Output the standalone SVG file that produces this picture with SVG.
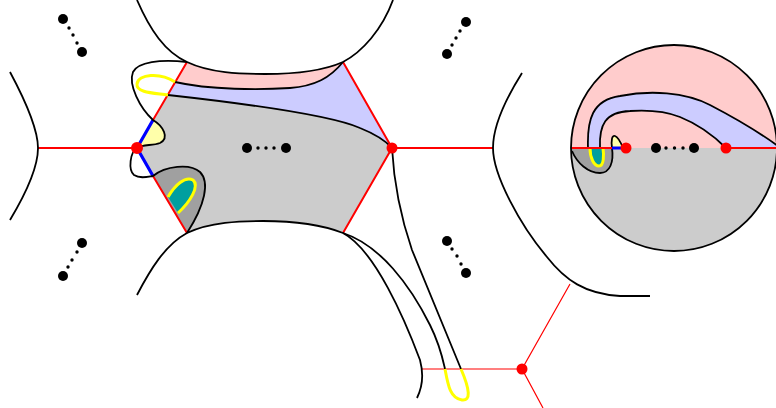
<svg xmlns="http://www.w3.org/2000/svg" width="776" height="408" viewBox="0 0 776 408">
<style>
.k{fill:none;stroke:#000;stroke-width:1.8}
.r{fill:none;stroke:#ff0000;stroke-width:2}
.rt{fill:none;stroke:#ff0000;stroke-width:1.2}
.b{fill:none;stroke:#0000ff;stroke-width:3.2}
.y{fill:none;stroke:#ffff00;stroke-width:3}
.pink{fill:#ffcccc}
.blue{fill:#ccccff}
.grey{fill:#cccccc}
.dgrey{fill:#a0a0a0}
.teal{fill:#009f9f}
.ly{fill:#ffffaa}
.d{fill:#000}
.rd{fill:#ff0000}
</style>
<defs>
<clipPath id="cc"><circle cx="674" cy="148" r="103"/></clipPath>
</defs>
<rect width="776" height="408" fill="#fff"/>

<g id="regions">
<path class="pink" d="M187,62 C210,73 240,74 265,74 C295,74 325,70 343,62 C330,78 315,86 290,88 C260,90 210,90 175,82 Z"/>
<path class="blue" d="M175,82 C210,90 260,90 290,88 C315,86 330,78 343,62 L392,148 C385,140 375,134 360,128 C330,115 240,103 168,95 Z"/>
<path class="grey" d="M168,95 C240,103 330,115 360,128 C375,134 385,140 392,148 L343,233 C320,224 290,221 263,221 C240,221 210,222 187,233 L137,148 Z"/>
<path class="ly" d="M153,120 C163,126 170,138 160,143 C152,146 143,144 137,148 Z"/>
<path class="dgrey" d="M153,176 C165,166 190,163 200,172 C210,182 205,205 187,233 Z"/>
<path class="teal" d="M168,197 C175,185 185,176 193,180 C200,186 190,202 178,213 Z"/>
</g>

<g id="disk" clip-path="url(#cc)">
<rect class="pink" x="560" y="40" width="220" height="108"/>
<rect class="grey" x="560" y="148" width="220" height="110"/>
<path class="blue" d="M588,148 C587,120 592,100 620,96 C650,90 685,92 710,105 C735,118 760,133 778,146 L778,148 L726,148 C715,137 700,125 680,117 C665,111 645,110 630,111 C605,112 599,125 600,148 Z"/>
<path class="dgrey" d="M571,148 C575,162 588,173 600,173 C610,173 614,162 612,148 Z"/>
<path class="teal" d="M590,148 C590,158 594,166 599,166 C604,166 604,155 603,148 Z"/>
<path class="ly" d="M612,148 C611,140 612,135 615,136 C618,137 621,143 623,148 Z"/>
<path class="k" d="M588,148 C587,120 592,100 620,96 C650,90 685,92 710,105 C735,118 760,133 778,146"/>
<path class="k" d="M600,148 C599,125 605,112 630,111 C645,110 665,111 680,117 C700,125 715,137 726,148"/>
<path class="k" d="M572,151 C577,163 588,173 600,173 C610,173 614,162 612,148 C611,140 612,135 615,136 C618,137 621,143 623,148"/>
<path class="y" d="M590,148 C590,158 594,166 599,166 C604,166 604,155 603,148"/>
<path class="r" d="M570,148 L612,148 M726,148 L778,148"/>
<path class="b" d="M612,148 L626,148"/>
</g>
<circle id="disk-outline" cx="674" cy="148" r="103" fill="none" stroke="#000" stroke-width="1.8"/>

<g id="edges">
<path class="r" d="M38,148 L137,148 M392,148 L493,148"/>
<path class="r" d="M153,120 L187,62 M343,62 L392,148 L343,233 M153,176 L187,233"/>
<path class="b" d="M137,148 L153,120 M137,148 L153,176"/>
<path class="rt" d="M422,369 L522,369 M570,284 L522,369 L543,408"/>
</g>

<g id="curves">
<path class="k" d="M10,72 C25,100 38,130 38,148 C38,168 25,195 10,220"/>
<path class="k" d="M137,0 C150,30 165,52 187,62 C210,73 240,74 265,74 C295,74 325,70 343,62 C362,52 382,30 393,0"/>
<path class="k" d="M175,82 C210,90 260,90 290,88 C315,86 330,78 343,62"/>
<path class="k" d="M168,95 C240,103 330,115 360,128 C375,134 385,140 392,148 C394,185 400,215 412,250 L461,369"/>
<path class="k" d="M187,62 C160,59 138,62 133,72 C128,85 140,108 153,120 C163,126 170,138 160,143 C152,146 143,144 137,148 C130,152 128,170 134,175 C140,179 147,177 153,176 C165,166 190,163 200,172 C210,182 205,205 187,233"/>
<path class="k" d="M137,295 C150,270 165,245 187,233 C210,222 240,221 263,221 C290,221 320,224 343,233 C375,250 405,320 420,360 C424,375 422,388 417,398"/>
<path class="k" d="M343,233 C380,245 410,285 430,325 C440,345 443,360 445,369"/>
<path class="k" d="M522,73 C505,100 493,125 493,148 C493,175 520,225 547,257 C565,280 585,294 620,296 L650,296"/>
<path class="y" d="M175,82 C160,72 138,74 137,84 C136,93 155,93 168,95"/>
<path class="y" d="M168,197 C175,185 185,176 193,180 C200,186 190,202 178,213"/>
<path class="y" d="M445,369 C448,385 450,398 462,400 C471,401 470,390 461,369"/>
</g>

<g id="vertices">
<circle class="rd" cx="137" cy="148" r="6"/>
<circle class="rd" cx="392" cy="148" r="5.5"/>
<circle class="rd" cx="522" cy="369" r="5.5"/>
<circle class="rd" cx="626" cy="148" r="5.5"/>
<circle class="rd" cx="726" cy="148" r="5.5"/>
</g>

<g id="dots">
<circle class="d" cx="63" cy="19" r="5"/><circle class="d" cx="69" cy="28" r="1.7"/><circle class="d" cx="73" cy="35" r="1.7"/><circle class="d" cx="77" cy="43" r="1.7"/><circle class="d" cx="82" cy="52" r="5"/>
<circle class="d" cx="82" cy="243" r="5"/><circle class="d" cx="77" cy="252" r="1.7"/><circle class="d" cx="72" cy="260" r="1.7"/><circle class="d" cx="68" cy="267" r="1.7"/><circle class="d" cx="63" cy="276" r="5"/>
<circle class="d" cx="466" cy="22" r="5"/><circle class="d" cx="460" cy="31" r="1.7"/><circle class="d" cx="456" cy="38" r="1.7"/><circle class="d" cx="452" cy="45" r="1.7"/><circle class="d" cx="447" cy="54" r="5"/>
<circle class="d" cx="447" cy="241" r="5"/><circle class="d" cx="452" cy="249" r="1.7"/><circle class="d" cx="457" cy="256" r="1.7"/><circle class="d" cx="461" cy="264" r="1.7"/><circle class="d" cx="466" cy="273" r="5"/>
<circle class="d" cx="247" cy="148" r="5"/><circle class="d" cx="258" cy="148" r="1.7"/><circle class="d" cx="266" cy="148" r="1.7"/><circle class="d" cx="274" cy="148" r="1.7"/><circle class="d" cx="286" cy="148" r="5"/>
<circle class="d" cx="656" cy="148" r="5"/><circle class="d" cx="666" cy="148" r="1.7"/><circle class="d" cx="674.5" cy="148" r="1.7"/><circle class="d" cx="683" cy="148" r="1.7"/><circle class="d" cx="694" cy="148" r="5"/>
</g>
</svg>
